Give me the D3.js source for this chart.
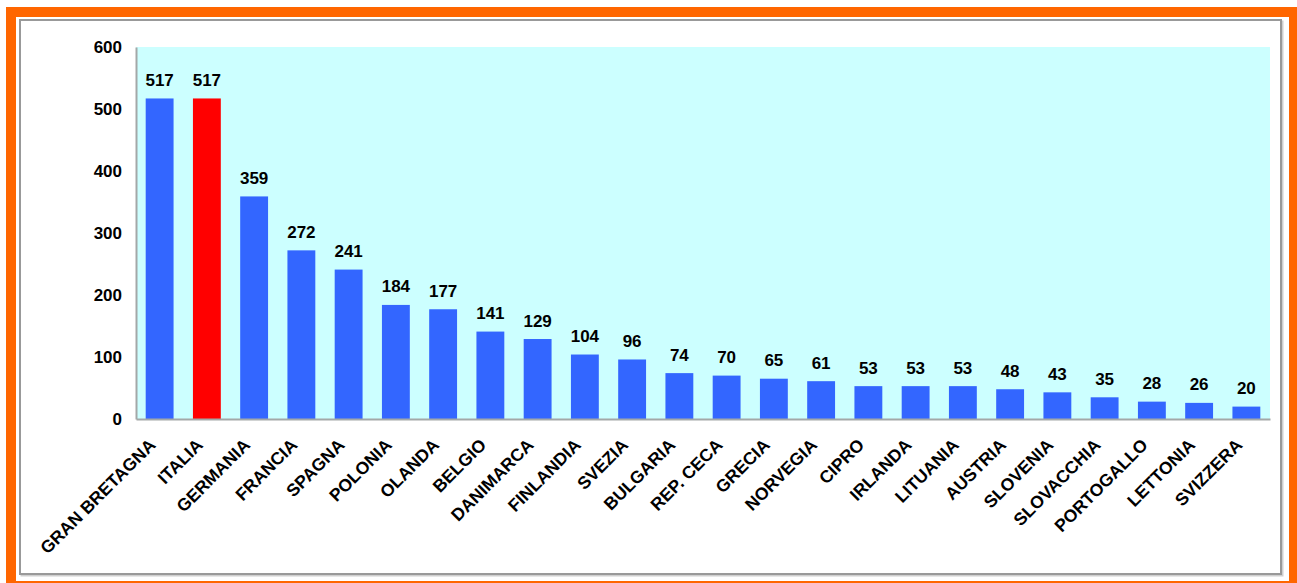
<!DOCTYPE html>
<html>
<head>
<meta charset="utf-8">
<script src="https://cdn.jsdelivr.net/npm/d3@7"></script>
<style>
  html, body { margin: 0; padding: 0; background: #ffffff; }
  svg { display: block; }
  text { font-family: Arial, "Liberation Sans", sans-serif; font-weight: bold; fill: #000; }
</style>
</head>
<body>
<svg id="chart" width="1297" height="583"></svg>
<script>
// Countries and their values
const categories = ["GRAN BRETAGNA", "ITALIA", "GERMANIA", "FRANCIA", "SPAGNA", "POLONIA",
  "OLANDA", "BELGIO", "DANIMARCA", "FINLANDIA", "SVEZIA", "BULGARIA", "REP. CECA",
  "GRECIA", "NORVEGIA", "CIPRO", "IRLANDA", "LITUANIA", "AUSTRIA", "SLOVENIA",
  "SLOVACCHIA", "PORTOGALLO", "LETTONIA", "SVIZZERA"];
const values = [517, 517, 359, 272, 241, 184, 177, 141, 129, 104, 96, 74, 70,
  65, 61, 53, 53, 53, 48, 43, 35, 28, 26, 20];
const highlighted = ["ITALIA"];
const yTicks = [0, 100, 200, 300, 400, 500, 600];

const svg = d3.select("#chart");

// Outer orange frame
svg.append("rect")
  .attr("x", 11).attr("y", 12)
  .attr("width", 1283).attr("height", 574)
  .attr("fill", "none").attr("stroke", "#FF6600").attr("stroke-width", 10);

// Inner white panel with grey border and soft shadow
svg.append("rect")
  .attr("x", 21.5).attr("y", 21.5).attr("width", 1261).attr("height", 554)
  .attr("fill", "none").attr("stroke", "#cfcfcf").attr("stroke-width", 2);
svg.append("rect")
  .attr("x", 20).attr("y", 20).attr("width", 1261).attr("height", 554)
  .attr("fill", "#ffffff").attr("stroke", "#999999").attr("stroke-width", 2);

const plot = { left: 136, top: 47, right: 1270, bottom: 419 };

const x = d3.scaleBand()
  .domain(categories)
  .range([plot.left, plot.right])
  .paddingInner(0.41)
  .paddingOuter(0.205);

const y = d3.scaleLinear()
  .domain([0, 600])
  .range([plot.bottom, plot.top]);

// Plot background
svg.append("rect")
  .attr("x", plot.left).attr("y", plot.top)
  .attr("width", plot.right - plot.left).attr("height", plot.bottom - plot.top)
  .attr("fill", "#CCFFFF");

// Bars
svg.append("g").selectAll("rect")
  .data(categories)
  .join("rect")
  .attr("x", d => x(d))
  .attr("y", (d, i) => y(values[i]))
  .attr("width", x.bandwidth())
  .attr("height", (d, i) => y(0) - y(values[i]))
  .attr("fill", d => highlighted.includes(d) ? "#FF0000" : "#3366FF");

// Value labels above bars
svg.append("g").selectAll("text")
  .data(categories)
  .join("text")
  .attr("x", d => x(d) + x.bandwidth() / 2)
  .attr("y", (d, i) => y(values[i]) - 12.5)
  .attr("text-anchor", "middle")
  .style("font-size", "17px")
  .text((d, i) => values[i]);

// Y axis
const yAxis = d3.axisLeft(y).tickValues(yTicks).tickSize(0).tickPadding(14);
const gy = svg.append("g")
  .attr("transform", `translate(${plot.left},0)`)
  .call(yAxis);
gy.select(".domain").attr("stroke", "#a3a8a8").attr("stroke-width", 2);
gy.selectAll("text")
  .style("font-size", "17px")
  .style("font-family", "Arial, 'Liberation Sans', sans-serif")
  .style("font-weight", "bold")
  .attr("fill", "#000");

// X axis with rotated country names
const xAxis = d3.axisBottom(x).tickSize(0).tickPadding(0);
const gx = svg.append("g")
  .attr("transform", `translate(0,${plot.bottom})`)
  .call(xAxis);
gx.select(".domain").attr("stroke", "#a3a8a8").attr("stroke-width", 2);
gx.selectAll("text")
  .style("font-size", "17.5px")
  .style("font-family", "Arial, 'Liberation Sans', sans-serif")
  .style("font-weight", "bold")
  .attr("fill", "#000")
  .attr("text-anchor", "end")
  .attr("dy", null)
  .attr("y", 0)
  .attr("transform", "translate(-3,27) rotate(-45)");
</script>
</body>
</html>
